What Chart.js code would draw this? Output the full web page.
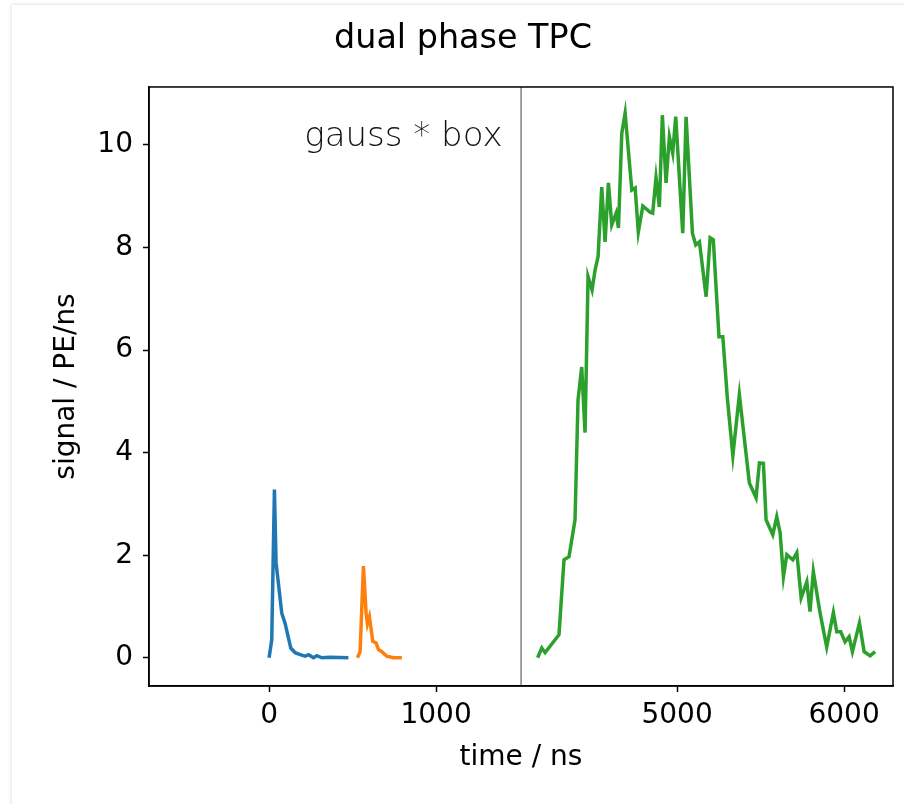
<!DOCTYPE html>
<html>
<head>
<meta charset="utf-8">
<title>dual phase TPC</title>
<script src="https://cdn.jsdelivr.net/npm/chart.js@4/dist/chart.umd.min.js"></script>
<style>
  html, body { margin: 0; padding: 0; background: #fff; overflow: hidden; }
  .card {
    position: absolute; left: 12px; top: 5px; width: 1000px; height: 1000px;
    box-shadow: 0 0 4px rgba(0, 0, 0, 0.18);
  }
  .wrap { position: absolute; left: 0; top: 0; width: 904px; height: 804px; }
</style>
</head>
<body>
<div class="card"></div>
<div class="wrap"><canvas id="tpc"></canvas></div>
<script>
// broken time axis: left part and right part, same ns/px
const leftRange = [-719, 1509];
const rightRange = [4066, 6293];
const xTicks = [0, 1000, 5000, 6000];
const yTicks = [0, 2, 4, 6, 8, 10];

// S1 (blue)
const s1Time = [0, 16, 32, 42, 76, 96, 130, 156, 186, 216, 236, 266, 286, 316, 365, 475];
const s1Signal = [0, 0.35, 3.28, 1.85, 0.87, 0.67, 0.19, 0.10, 0.06, 0.03, 0.06, 0, 0.04, 0, 0.01, 0];

// delayed peak (orange)
const s1bTime = [529, 545, 565, 581, 589, 601, 621, 641, 655, 675, 705, 744, 795];
const s1bSignal = [0, 0.12, 1.79, 0.87, 0.66, 0.80, 0.32, 0.29, 0.16, 0.12, 0.03, 0, 0];

// S2 (green)
const s2Time = [4165, 4190, 4210, 4293, 4323, 4353, 4389, 4407, 4429, 4449, 4467, 4491, 4509, 4527,
  4549, 4569, 4589, 4609, 4635, 4649, 4669, 4689, 4729, 4749, 4768, 4795, 4838, 4854, 4874, 4894,
  4912, 4934, 4954, 4974, 4992, 5034, 5054, 5092, 5112, 5134, 5174, 5198, 5217, 5251, 5274, 5301,
  5334, 5373, 5433, 5473, 5493, 5517, 5533, 5573, 5597, 5617, 5637, 5657, 5693, 5717, 5743, 5777,
  5796, 5816, 5856, 5896, 5936, 5956, 5980, 6006, 6030, 6050, 6092, 6120, 6156, 6186];
const s2Signal = [0, 0.19, 0.10, 0.45, 1.91, 1.97, 2.69, 5.03, 5.67, 4.39, 7.43, 7.17, 7.56, 7.82,
  9.18, 8.11, 9.26, 8.44, 8.67, 8.38, 10.23, 10.62, 9.12, 9.16, 8.30, 8.81, 8.69, 8.67, 9.36, 8.79,
  10.58, 9.26, 10.16, 9.84, 10.55, 8.28, 10.55, 8.28, 8.05, 8.11, 7.04, 8.19, 8.15, 6.26, 6.26, 5.07,
  3.94, 5.13, 3.41, 3.12, 3.80, 3.79, 2.69, 2.40, 2.75, 2.44, 1.58, 2.01, 1.91, 2.05, 1.17, 1.48,
  0.90, 1.68, 0.88, 0.21, 0.88, 0.51, 0.51, 0.31, 0.41, 0.12, 0.68, 0.12, 0.04, 0.12];

const FONT = "'DejaVu Sans', sans-serif";
const gap = rightRange[0] - leftRange[1];

// real time -> position on the single linear axis
const toAxis = (t) => (t >= rightRange[0] ? t - gap : t);
const fromAxis = (v) => (v > leftRange[1] ? v + gap : v);
const pts = (ts, vs) => ts.map((t, i) => ({ x: toAxis(t), y: vs[i] }));

const framePlugin = {
  id: 'frame',
  afterDatasetsDraw(chart) {
    const { ctx, chartArea: a, scales } = chart;
    ctx.save();
    // axis break line
    const bx = scales.x.getPixelForValue(leftRange[1]);
    ctx.strokeStyle = '#808080';
    ctx.lineWidth = 1.5;
    ctx.beginPath();
    ctx.moveTo(bx, a.top);
    ctx.lineTo(bx, a.bottom);
    ctx.stroke();
    // box
    ctx.strokeStyle = '#000';
    ctx.lineWidth = 1.5;
    ctx.strokeRect(a.left, a.top, a.right - a.left, a.bottom - a.top);
    // label
    ctx.fillStyle = '#111';
    ctx.font = `200 34px ${FONT}`;
    ctx.textAlign = 'right';
    ctx.textBaseline = 'middle';
    ctx.fillText('gauss * box', scales.x.getPixelForValue(1398), scales.y.getPixelForValue(10.15));
    ctx.restore();
  },
};

const lineDs = (data, color) => ({
  data,
  borderColor: color,
  borderWidth: 3.5,
  pointRadius: 0,
  tension: 0,
  fill: false,
});

new Chart(document.getElementById('tpc').getContext('2d'), {
  type: 'line',
  data: {
    datasets: [
      lineDs(pts(s1Time, s1Signal), '#1f77b4'),
      lineDs(pts(s1bTime, s1bSignal), '#ff7f0e'),
      lineDs(pts(s2Time, s2Signal), '#2ca02c'),
    ],
  },
  options: {
    responsive: true,
    maintainAspectRatio: false,
    animation: false,
    layout: { padding: { left: 33, right: 11, top: 0, bottom: 24 } },
    plugins: {
      legend: { display: false },
      tooltip: { enabled: false },
      title: {
        display: true,
        text: 'dual phase TPC',
        color: '#000',
        font: { family: FONT, size: 33.4, weight: 'normal' },
        padding: { top: 19, bottom: 27.9 },
      },
    },
    scales: {
      x: {
        type: 'linear',
        min: leftRange[0],
        max: toAxis(rightRange[1]),
        afterBuildTicks: (s) => { s.ticks = xTicks.map((t) => ({ value: toAxis(t) })); },
        afterFit: (s) => { s.height = 94; },
        ticks: {
          color: '#000',
          font: { family: FONT, size: 28 },
          padding: 7,
          maxRotation: 0,
          callback: (v) => String(fromAxis(v)),
        },
        grid: { display: true, drawOnChartArea: false, tickLength: 6, tickColor: '#000', tickWidth: 1.5 },
        border: { display: true, color: '#000', width: 1.5 },
        title: {
          display: true,
          text: 'time / ns',
          color: '#000',
          font: { family: FONT, size: 28 },
          padding: { top: 4, bottom: 5 },
        },
      },
      y: {
        type: 'linear',
        min: -0.55,
        max: 11.13,
        afterBuildTicks: (s) => { s.ticks = yTicks.map((v) => ({ value: v })); },
        afterFit: (s) => { s.width = 116; },
        ticks: {
          color: '#000',
          font: { family: FONT, size: 28 },
          padding: 10,
        },
        grid: { display: true, drawOnChartArea: false, tickLength: 6, tickColor: '#000', tickWidth: 1.5 },
        border: { display: true, color: '#000', width: 1.5 },
        title: {
          display: true,
          text: 'signal / PE/ns',
          color: '#000',
          font: { family: FONT, size: 28 },
          padding: { top: 17, bottom: 4 },
        },
      },
    },
  },
  plugins: [framePlugin],
});
</script>
</body>
</html>
